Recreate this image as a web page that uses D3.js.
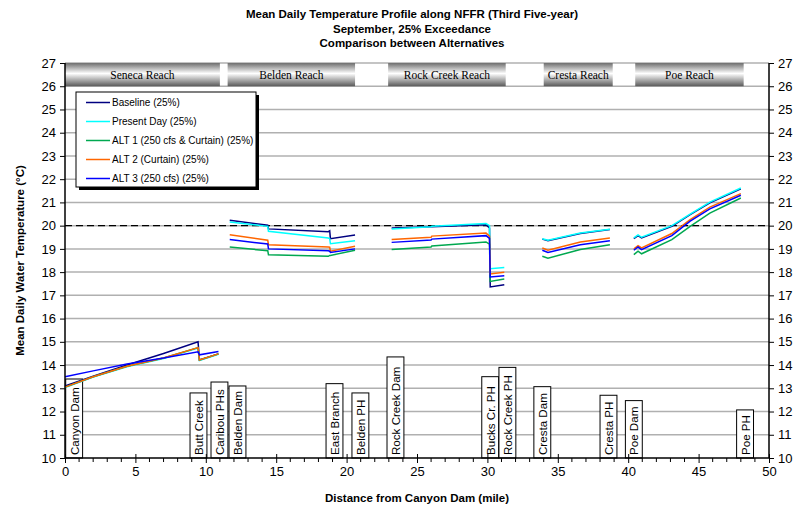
<!DOCTYPE html>
<html>
<head>
<meta charset="utf-8">
<script src="https://cdn.jsdelivr.net/npm/d3@7"></script>
<style>
  body { margin: 0; background: #fff; }
  svg { font-family: Arial, "Liberation Sans", sans-serif; }
</style>
</head>
<body>
<svg id="chart"></svg>
<script>
// segments are separated by null
const miles = [0, 2, 4.4, 7, 9.45, 9.55, 10.9, null,
    11.7, 14.4, 14.45, 18.7, 18.8, 18.85, 20.6, null,
    23.2, 26.0, 26.05, 29.9, 30.15, 30.2, 31.2, null,
    33.9, 34.3, 36.6, 38.7, null,
    40.4, 40.7, 40.95, 43.1, 44.4, 45.8, 48.0];

const baseline = [13.1, 13.52, 14.0, 14.5, 15.0, 14.22, 14.48, null,
    20.23, 20.02, 19.86, 19.74, 19.78, 19.44, 19.6, null,
    19.9, 19.95, 19.95, 20.04, 19.9, 17.36, 17.46, null,
    19.42, 19.35, 19.66, 19.83, null,
    19.44, 19.57, 19.47, 19.97, 20.47, 20.98, 21.58];
const presentDay = [13.03, 13.48, 13.93, 14.28, 14.73, 14.2, 14.46, null,
    20.16, 19.97, 19.76, 19.47, 19.44, 19.22, 19.35, null,
    19.86, 19.95, 19.97, 20.09, 20.0, 18.15, 18.2, null,
    19.44, 19.37, 19.68, 19.85, null,
    19.47, 19.6, 19.5, 20.0, 20.5, 21.01, 21.62];
const alt1 = [13.05, 13.5, 13.95, 14.3, 14.75, 14.22, 14.48, null,
    19.08, 18.92, 18.75, 18.68, 18.72, 18.72, 18.94, null,
    18.97, 19.08, 19.12, 19.3, 19.2, 17.6, 17.7, null,
    18.68, 18.6, 18.97, 19.18, null,
    18.75, 18.9, 18.79, 19.4, 19.97, 20.54, 21.19];
const alt2 = [13.05, 13.5, 13.95, 14.3, 14.75, 14.22, 14.48, null,
    19.61, 19.37, 19.18, 19.08, 19.07, 18.9, 19.11, null,
    19.4, 19.5, 19.55, 19.68, 19.55, 17.92, 17.99, null,
    19.04, 18.94, 19.3, 19.47, null,
    19.0, 19.14, 19.04, 19.66, 20.26, 20.8, 21.38];
const alt3 = [13.5, 13.75, 14.05, 14.3, 14.57, 14.44, 14.58, null,
    19.4, 19.21, 19.0, 18.92, 18.9, 18.85, 19.0, null,
    19.28, 19.38, 19.42, 19.57, 19.45, 17.79, 17.84, null,
    18.94, 18.85, 19.18, 19.35, null,
    18.94, 19.08, 18.97, 19.57, 20.19, 20.72, 21.31];

const seriesNames = ["Baseline (25%)", "Present Day (25%)", "ALT 1 (250 cfs & Curtain) (25%)",
    "ALT 2 (Curtain) (25%)", "ALT 3 (250 cfs) (25%)"];
const seriesValues = [baseline, presentDay, alt1, alt2, alt3];
const seriesColors = ["#000080", "#00FFFF", "#00A850", "#FF6600", "#0000FF"];

const reachNames = ["Seneca Reach", "Belden Reach", "Rock Creek Reach", "Cresta Reach", "Poe Reach"];
const reachStart = [0, 11.55, 22.95, 34.0, 40.5];
const reachEnd = [11.0, 20.6, 31.3, 38.9, 48.2];

const siteNames = ["Canyon Dam", "Butt Creek", "Caribou PHs", "Belden Dam", "East Branch", "Belden PH",
    "Rock Creek Dam", "Bucks Cr. PH", "Rock Creek PH", "Cresta Dam", "Cresta PH", "Poe Dam", "Poe PH"];
const siteMile = [0.05, 8.88, 10.37, 11.65, 18.54, 20.38, 22.87, 29.6, 30.82, 33.3, 38.0, 39.8, 47.7];
const siteTop = [13.4, 12.8, 13.27, 13.1, 13.2, 12.8, 14.35, 13.5, 13.9, 13.07, 12.7, 12.47, 12.07];

const xTicks = d3.range(0, 51, 5);
const yTicks = d3.range(10, 28, 1);
const thresholdTemp = 20;

const width = 794, height = 510;
const margin = { top: 63, right: 25, bottom: 52, left: 65 };

const svg = d3.select("#chart").attr("width", width).attr("height", height);

const x = d3.scaleLinear().domain([0, 50]).range([margin.left, width - margin.right]);
const y = d3.scaleLinear().domain([10, 27]).range([height - margin.bottom, margin.top]);

// title
const titleLines = ["Mean Daily Temperature Profile along NFFR (Third Five-year)",
    "September, 25% Exceedance", "Comparison between Alternatives"];
svg.append("g").selectAll("text").data(titleLines).join("text")
    .attr("x", 412).attr("y", (d, i) => 18 + i * 14.5)
    .attr("text-anchor", "middle").attr("font-weight", "bold").attr("font-size", 11.5)
    .text(d => d);

// gridlines
svg.append("g").selectAll("line").data(yTicks.filter(t => t > 10)).join("line")
    .attr("x1", x(0)).attr("x2", x(50))
    .attr("y1", d => y(d)).attr("y2", d => y(d))
    .attr("stroke", "#b0b0b0").attr("stroke-width", 1.5);

// reach banners
const defs = svg.append("defs");
const grad = defs.append("linearGradient").attr("id", "bar").attr("x1", 0).attr("x2", 0).attr("y1", 0).attr("y2", 1);
grad.append("stop").attr("offset", "0%").attr("stop-color", "#6e6e6e");
grad.append("stop").attr("offset", "45%").attr("stop-color", "#ffffff");
grad.append("stop").attr("offset", "100%").attr("stop-color", "#5a5a5a");

const reaches = svg.append("g");
reachNames.forEach((name, i) => {
    reaches.append("rect")
        .attr("x", x(reachStart[i])).attr("y", y(27))
        .attr("width", x(reachEnd[i]) - x(reachStart[i])).attr("height", y(26) - y(27))
        .attr("fill", "url(#bar)");
    reaches.append("text")
        .attr("x", (x(reachStart[i]) + x(reachEnd[i])) / 2).attr("y", (y(26) + y(27)) / 2 + 4)
        .attr("text-anchor", "middle").attr("font-family", "'Liberation Serif', 'Times New Roman', serif")
        .attr("font-size", 11.5).text(name);
});

// site label boxes
const sites = svg.append("g");
siteNames.forEach((name, i) => {
    const x0 = x(siteMile[i]);
    const w = x(siteMile[i] + 1.2) - x0;
    sites.append("rect")
        .attr("x", x0).attr("y", y(siteTop[i]))
        .attr("width", w).attr("height", y(10) - y(siteTop[i]))
        .attr("fill", "#fff").attr("stroke", "#000").attr("stroke-width", 1);
    sites.append("text")
        .attr("transform", `translate(${x0 + w / 2 + 4.5},${y(10) - 3}) rotate(-90)`)
        .attr("font-size", 11.6).text(name);
});

// threshold dashed line
svg.append("line")
    .attr("x1", x(0)).attr("x2", x(50))
    .attr("y1", y(thresholdTemp)).attr("y2", y(thresholdTemp))
    .attr("stroke", "#000").attr("stroke-width", 1.3).attr("stroke-dasharray", "7,4");

// series lines
const line = d3.line()
    .defined((d, i) => d != null && miles[i] != null)
    .x((d, i) => x(miles[i]))
    .y(d => y(d));

svg.append("g").selectAll("path").data(seriesValues).join("path")
    .attr("d", d => line(d))
    .attr("fill", "none")
    .attr("stroke", (d, i) => seriesColors[i])
    .attr("stroke-width", 1.5);

// axes
const xAxis = d3.axisBottom(x).tickValues(xTicks).tickSize(5).tickPadding(4);
const gx = svg.append("g").attr("transform", `translate(0,${y(10)})`).call(xAxis);
gx.selectAll(".tick line").attr("y1", -4);
gx.append("g").selectAll("line").data(d3.range(0, 51).filter(d => d % 5 !== 0)).join("line")
    .attr("x1", d => x(d)).attr("x2", d => x(d)).attr("y1", 0).attr("y2", 4)
    .attr("stroke", "#000");

const yLeft = d3.axisLeft(y).tickValues(yTicks).tickSize(5).tickPadding(4);
const gyl = svg.append("g").attr("transform", `translate(${x(0)},0)`).call(yLeft);
const yRight = d3.axisRight(y).tickValues(yTicks).tickSize(5).tickPadding(4);
const gyr = svg.append("g").attr("transform", `translate(${x(50)},0)`).call(yRight);

[gx, gyl, gyr].forEach(g => {
    g.selectAll("text").attr("font-size", 13).attr("font-family", "Arial, 'Liberation Sans', sans-serif").attr("fill", "#000");
    g.select(".domain").attr("stroke", "#000").attr("stroke-width", 1.5);
});
gyl.select(".domain").attr("d", `M0,${y(10)}V${y(27)}`);
gyr.select(".domain").attr("d", `M0,${y(10)}V${y(27)}`);
gx.select(".domain").attr("d", `M${x(0)},0H${x(50)}`);

// axis titles
svg.append("text")
    .attr("transform", `translate(24,${(y(10) + y(27)) / 2}) rotate(-90)`)
    .attr("text-anchor", "middle").attr("font-weight", "bold").attr("font-size", 11.5)
    .text("Mean Daily Water Temperature (°C)");
svg.append("text")
    .attr("x", (x(0) + x(50)) / 2).attr("y", 502)
    .attr("text-anchor", "middle").attr("font-weight", "bold").attr("font-size", 11.5)
    .text("Distance from Canyon Dam (mile)");

// legend
const legend = svg.append("g").attr("transform", "translate(76,92)");
legend.append("rect").attr("x", 3).attr("y", 3).attr("width", 180).attr("height", 95).attr("fill", "#000");
legend.append("rect").attr("x", 0).attr("y", 0).attr("width", 180).attr("height", 95)
    .attr("fill", "#fff").attr("stroke", "#000").attr("stroke-width", 1);
seriesNames.forEach((name, i) => {
    const ly = 10.5 + i * 19;
    legend.append("line").attr("x1", 10).attr("x2", 34).attr("y1", ly).attr("y2", ly)
        .attr("stroke", seriesColors[i]).attr("stroke-width", 1.5);
    legend.append("text").attr("x", 36).attr("y", ly + 3.5).attr("font-size", 10).text(name);
});
</script>
</body>
</html>
